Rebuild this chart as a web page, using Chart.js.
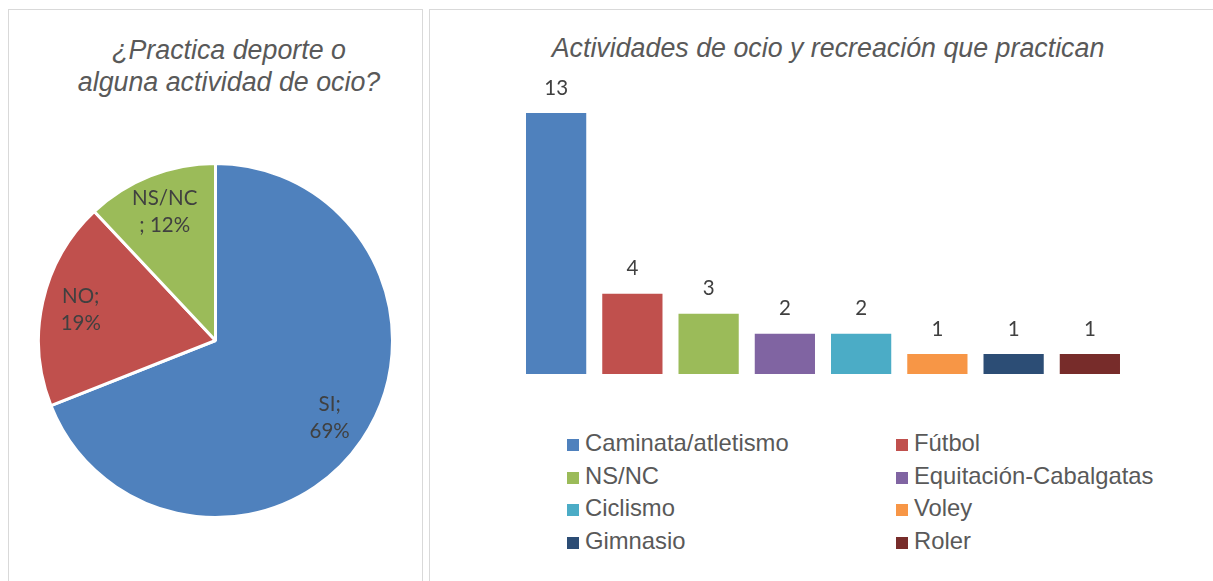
<!DOCTYPE html>
<html>
<head>
<meta charset="utf-8">
<script src="https://cdn.jsdelivr.net/npm/chart.js@4.4.1/dist/chart.umd.min.js"></script>
<style>
  html, body { margin: 0; padding: 0; background: #fff; width: 1213px; height: 581px; overflow: hidden; }
  .panel { position: absolute; border: 1px solid #d9d9d9; box-sizing: border-box; }
  .title { position: absolute; font-family: "Liberation Sans", Arial, sans-serif; font-style: italic; font-size: 26.8px; color: #595959; text-align: center; white-space: nowrap; line-height: 32px; }
  .cv { position: absolute; }
  .legend { position: absolute; font-family: "Liberation Sans", Arial, sans-serif; font-size: 23.8px; color: #595959; }
  .legend .item { position: absolute; white-space: nowrap; height: 26px; line-height: 26px; }
  .legend .box { display: inline-block; width: 12px; height: 12px; margin-right: 6px; vertical-align: 0px; }
</style>
</head>
<body>
<div class="panel" style="left:8px; top:9px; width:415px; height:600px;"></div>
<div class="panel" style="left:429px; top:9px; width:800px; height:600px;"></div>

<div class="title" style="left:29px; width:400px; top:34px;">¿Practica deporte o<br>alguna actividad de ocio?</div>
<div class="title" style="left:528px; width:600px; top:32px;">Actividades de ocio y recreación que practican</div>

<div class="cv" style="left:37px; top:162px; width:357px; height:357px;"><canvas id="pie"></canvas></div>
<div class="cv" style="left:430px; top:60px; width:783px; height:340px;"><canvas id="bar"></canvas></div>
<div class="legend" id="legend"></div>

<script>
// ---- Data ----
const pieCategories = ["SI", "NO", "NS/NC"];
const pieValues = [69, 19, 12];
const pieColors = ["#4F81BD", "#C0504D", "#9BBB59"];

const barCategories = ["Caminata/atletismo", "Fútbol", "NS/NC", "Equitación-Cabalgatas", "Ciclismo", "Voley", "Gimnasio", "Roler"];
const barValues = [13, 4, 3, 2, 2, 1, 1, 1];
const barColors = ["#4F81BD", "#C0504D", "#9BBB59", "#8064A2", "#4BACC6", "#F79646", "#2C4D75", "#772C2A"];

const labelFont = '20.5px Lato, "Open Sans", sans-serif';
const labelColor = "#404040";

// ---- Pie ----
const pieLabelPlugin = {
  id: "pieLabels",
  afterDatasetsDraw(chart) {
    const ctx = chart.ctx;
    const meta = chart.getDatasetMeta(0);
    ctx.save();
    ctx.font = labelFont;
    ctx.fillStyle = labelColor;
    ctx.textAlign = "center";
    ctx.textBaseline = "middle";
    meta.data.forEach((el, i) => {
      const mid = (el.startAngle + el.endAngle) / 2;
      const r = el.outerRadius * 0.78;
      const x = el.x + Math.cos(mid) * r;
      const y = el.y + Math.sin(mid) * r;
      const cat = pieCategories[i];
      const v = pieValues[i];
      const lines = cat.length > 3 ? [cat, "; " + v + "%"] : [cat + ";", v + "%"];
      ctx.fillText(lines[0], x, y - 13.5);
      ctx.fillText(lines[1], x, y + 13.5);
    });
    ctx.restore();
  }
};

new Chart(document.getElementById("pie"), {
  type: "pie",
  data: {
    labels: pieCategories,
    datasets: [{ data: pieValues, backgroundColor: pieColors, borderColor: "#ffffff", borderWidth: 3 }]
  },
  options: {
    responsive: true,
    maintainAspectRatio: false,
    animation: false,
    layout: { padding: 0 },
    plugins: { legend: { display: false }, tooltip: { enabled: false }, title: { display: false } }
  },
  plugins: [pieLabelPlugin]
});

// ---- Bar ----
const barLabelPlugin = {
  id: "barLabels",
  afterDatasetsDraw(chart) {
    const ctx = chart.ctx;
    const meta = chart.getDatasetMeta(0);
    ctx.save();
    ctx.font = labelFont;
    ctx.fillStyle = labelColor;
    ctx.textAlign = "center";
    ctx.textBaseline = "middle";
    meta.data.forEach((el, i) => {
      ctx.fillText(String(barValues[i]), el.x, el.y - 25);
    });
    ctx.restore();
  }
};

const barChart = new Chart(document.getElementById("bar"), {
  type: "bar",
  data: {
    labels: barCategories,
    datasets: [{ data: barValues, backgroundColor: barColors, borderWidth: 0, barPercentage: 0.79, categoryPercentage: 1.0 }]
  },
  options: {
    responsive: true,
    maintainAspectRatio: false,
    animation: false,
    layout: { padding: { left: 88, right: 85, top: 53, bottom: 26 } },
    scales: {
      x: { display: false },
      y: { display: false, min: 0, max: 13 }
    },
    plugins: { legend: { display: false }, tooltip: { enabled: false }, title: { display: false } }
  },
  plugins: [barLabelPlugin]
});

// ---- Legend (two columns) ----
const legend = document.getElementById("legend");
const colX = [567, 896];
const rowY = [443, 476, 508, 541];
barCategories.forEach((cat, i) => {
  const item = document.createElement("div");
  item.className = "item";
  item.style.left = colX[i % 2] + "px";
  item.style.top = (rowY[Math.floor(i / 2)] - 13) + "px";
  const box = document.createElement("span");
  box.className = "box";
  box.style.background = barColors[i];
  item.appendChild(box);
  item.appendChild(document.createTextNode(cat));
  legend.appendChild(item);
});
</script>
</body>
</html>
